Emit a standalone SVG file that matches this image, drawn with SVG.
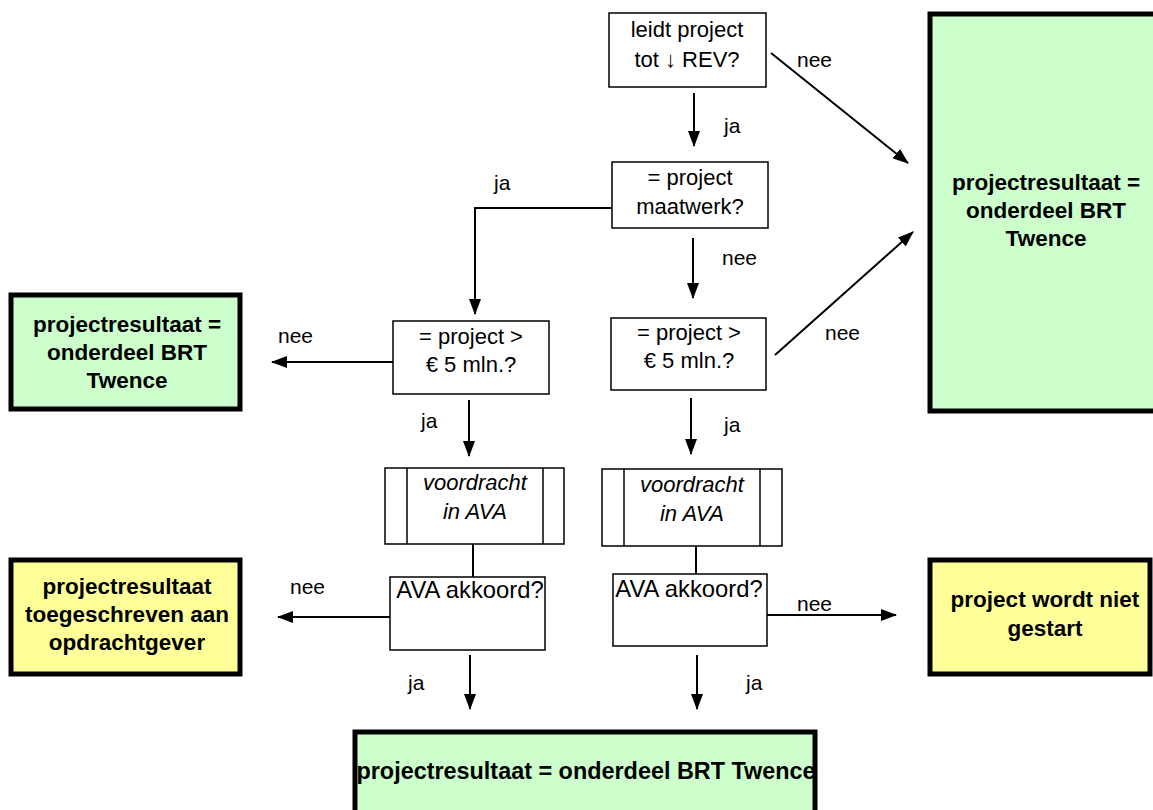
<svg xmlns="http://www.w3.org/2000/svg" width="1153" height="810" viewBox="0 0 1153 810">
<defs>
<marker id="ah" markerWidth="16" markerHeight="12" refX="15" refY="6" orient="auto" markerUnits="userSpaceOnUse">
<path d="M0,0 L16,6 L0,12 Z" fill="#000"/>
</marker>
<style>
.box{fill:#fff;stroke:#000;stroke-width:1.5}
.g{fill:#ccffcc;stroke:#000;stroke-width:5}
.y{fill:#ffff99;stroke:#000;stroke-width:5}
.t{font-family:"Liberation Sans",Arial,sans-serif;font-size:22px;fill:#000;text-anchor:middle}
.b{font-family:"Liberation Sans",Arial,sans-serif;font-size:22.5px;font-weight:bold;fill:#000;text-anchor:middle}
.i{font-style:italic}
.l{font-family:"Liberation Sans",Arial,sans-serif;font-size:21px;fill:#000}
.c{stroke:#000;stroke-width:2;fill:none}
.a{marker-end:url(#ah)}
</style>
</defs>
<rect width="1153" height="810" fill="#fff"/>

<g id="connectors">
<line class="c a" x1="694" y1="93" x2="694" y2="146"/>
<line class="c a" x1="771" y1="53" x2="908" y2="163"/>
<polyline class="c a" points="612,208 475,208 475,314"/>
<line class="c a" x1="693" y1="238" x2="693" y2="298"/>
<line class="c a" x1="775" y1="355" x2="913" y2="232"/>
<line class="c a" x1="393" y1="362" x2="272" y2="362"/>
<line class="c a" x1="469" y1="400" x2="469" y2="456"/>
<line class="c a" x1="691" y1="398" x2="691" y2="454"/>
<line class="c" x1="473" y1="544" x2="473" y2="577"/>
<line class="c" x1="696" y1="546" x2="696" y2="574"/>
<line class="c a" x1="390" y1="617" x2="278" y2="617"/>
<line class="c a" x1="767" y1="615" x2="896" y2="615"/>
<line class="c a" x1="470" y1="655" x2="470" y2="709"/>
<line class="c a" x1="697" y1="655" x2="697" y2="709"/>
<text class="l" x="797" y="67">nee</text>
<text class="l" x="724" y="133">ja</text>
<text class="l" x="494" y="190">ja</text>
<text class="l" x="722" y="265">nee</text>
<text class="l" x="278" y="343">nee</text>
<text class="l" x="825" y="340">nee</text>
<text class="l" x="421" y="428">ja</text>
<text class="l" x="724" y="432">ja</text>
<text class="l" x="290" y="594">nee</text>
<text class="l" x="797" y="611">nee</text>
<text class="l" x="408" y="690">ja</text>
<text class="l" x="746" y="690">ja</text>
</g>

<g id="q-rev">
<rect class="box" x="609" y="13" width="157" height="74"/>
<text class="t" x="687" y="37">leidt project</text>
<text class="t" x="687" y="67">tot ↓ REV?</text>
</g>

<g id="q-maatwerk">
<rect class="box" x="612" y="162" width="156" height="66"/>
<text class="t" x="690" y="185">= project</text>
<text class="t" x="690" y="214">maatwerk?</text>
</g>

<g id="q-5mln-left">
<rect class="box" x="393" y="321" width="156" height="73"/>
<text class="t" x="471" y="344">= project &gt;</text>
<text class="t" x="471" y="372">€ 5 mln.?</text>
</g>

<g id="q-5mln-right">
<rect class="box" x="611" y="318" width="155" height="72"/>
<text class="t" x="689" y="340">= project &gt;</text>
<text class="t" x="689" y="368">€ 5 mln.?</text>
</g>

<g id="voordracht-left">
<rect class="box" x="385" y="468" width="179" height="76"/>
<line class="box" x1="407" y1="468" x2="407" y2="544"/>
<line class="box" x1="543" y1="468" x2="543" y2="544"/>
<text class="t i" x="475" y="490">voordracht</text>
<text class="t i" x="475" y="519">in AVA</text>
</g>

<g id="voordracht-right">
<rect class="box" x="602" y="469" width="180" height="77"/>
<line class="box" x1="624" y1="469" x2="624" y2="546"/>
<line class="box" x1="760" y1="469" x2="760" y2="546"/>
<text class="t i" x="692" y="492">voordracht</text>
<text class="t i" x="692" y="521">in AVA</text>
</g>

<g id="ava-left">
<rect class="box" x="390" y="577" width="155" height="73"/>
<text class="t" x="470" y="598" style="font-size:23.8px">AVA akkoord?</text>
</g>

<g id="ava-right">
<rect class="box" x="613" y="574" width="154" height="72"/>
<text class="t" x="689" y="597" style="font-size:23.8px">AVA akkoord?</text>
</g>

<g id="result-right-top">
<rect class="g" x="930" y="14" width="240" height="397"/>
<text class="b" x="1046" y="190">projectresultaat =</text>
<text class="b" x="1046" y="218">onderdeel BRT</text>
<text class="b" x="1046" y="246">Twence</text>
</g>

<g id="result-left">
<rect class="g" x="11" y="295" width="229" height="114"/>
<text class="b" x="127" y="332">projectresultaat =</text>
<text class="b" x="127" y="360">onderdeel BRT</text>
<text class="b" x="127" y="388">Twence</text>
</g>

<g id="result-opdrachtgever">
<rect class="y" x="11" y="560" width="229" height="114"/>
<text class="b" x="127" y="594">projectresultaat</text>
<text class="b" x="127" y="622">toegeschreven aan</text>
<text class="b" x="127" y="650">opdrachtgever</text>
</g>

<g id="niet-gestart">
<rect class="y" x="930" y="560" width="220" height="114"/>
<text class="b" x="1045" y="607">project wordt niet</text>
<text class="b" x="1045" y="636">gestart</text>
</g>

<g id="result-bottom">
<rect class="g" x="355" y="732" width="460" height="90"/>
<text class="b" x="586" y="779" style="font-size:23.4px">projectresultaat = onderdeel BRT Twence</text>
</g>
</svg>
